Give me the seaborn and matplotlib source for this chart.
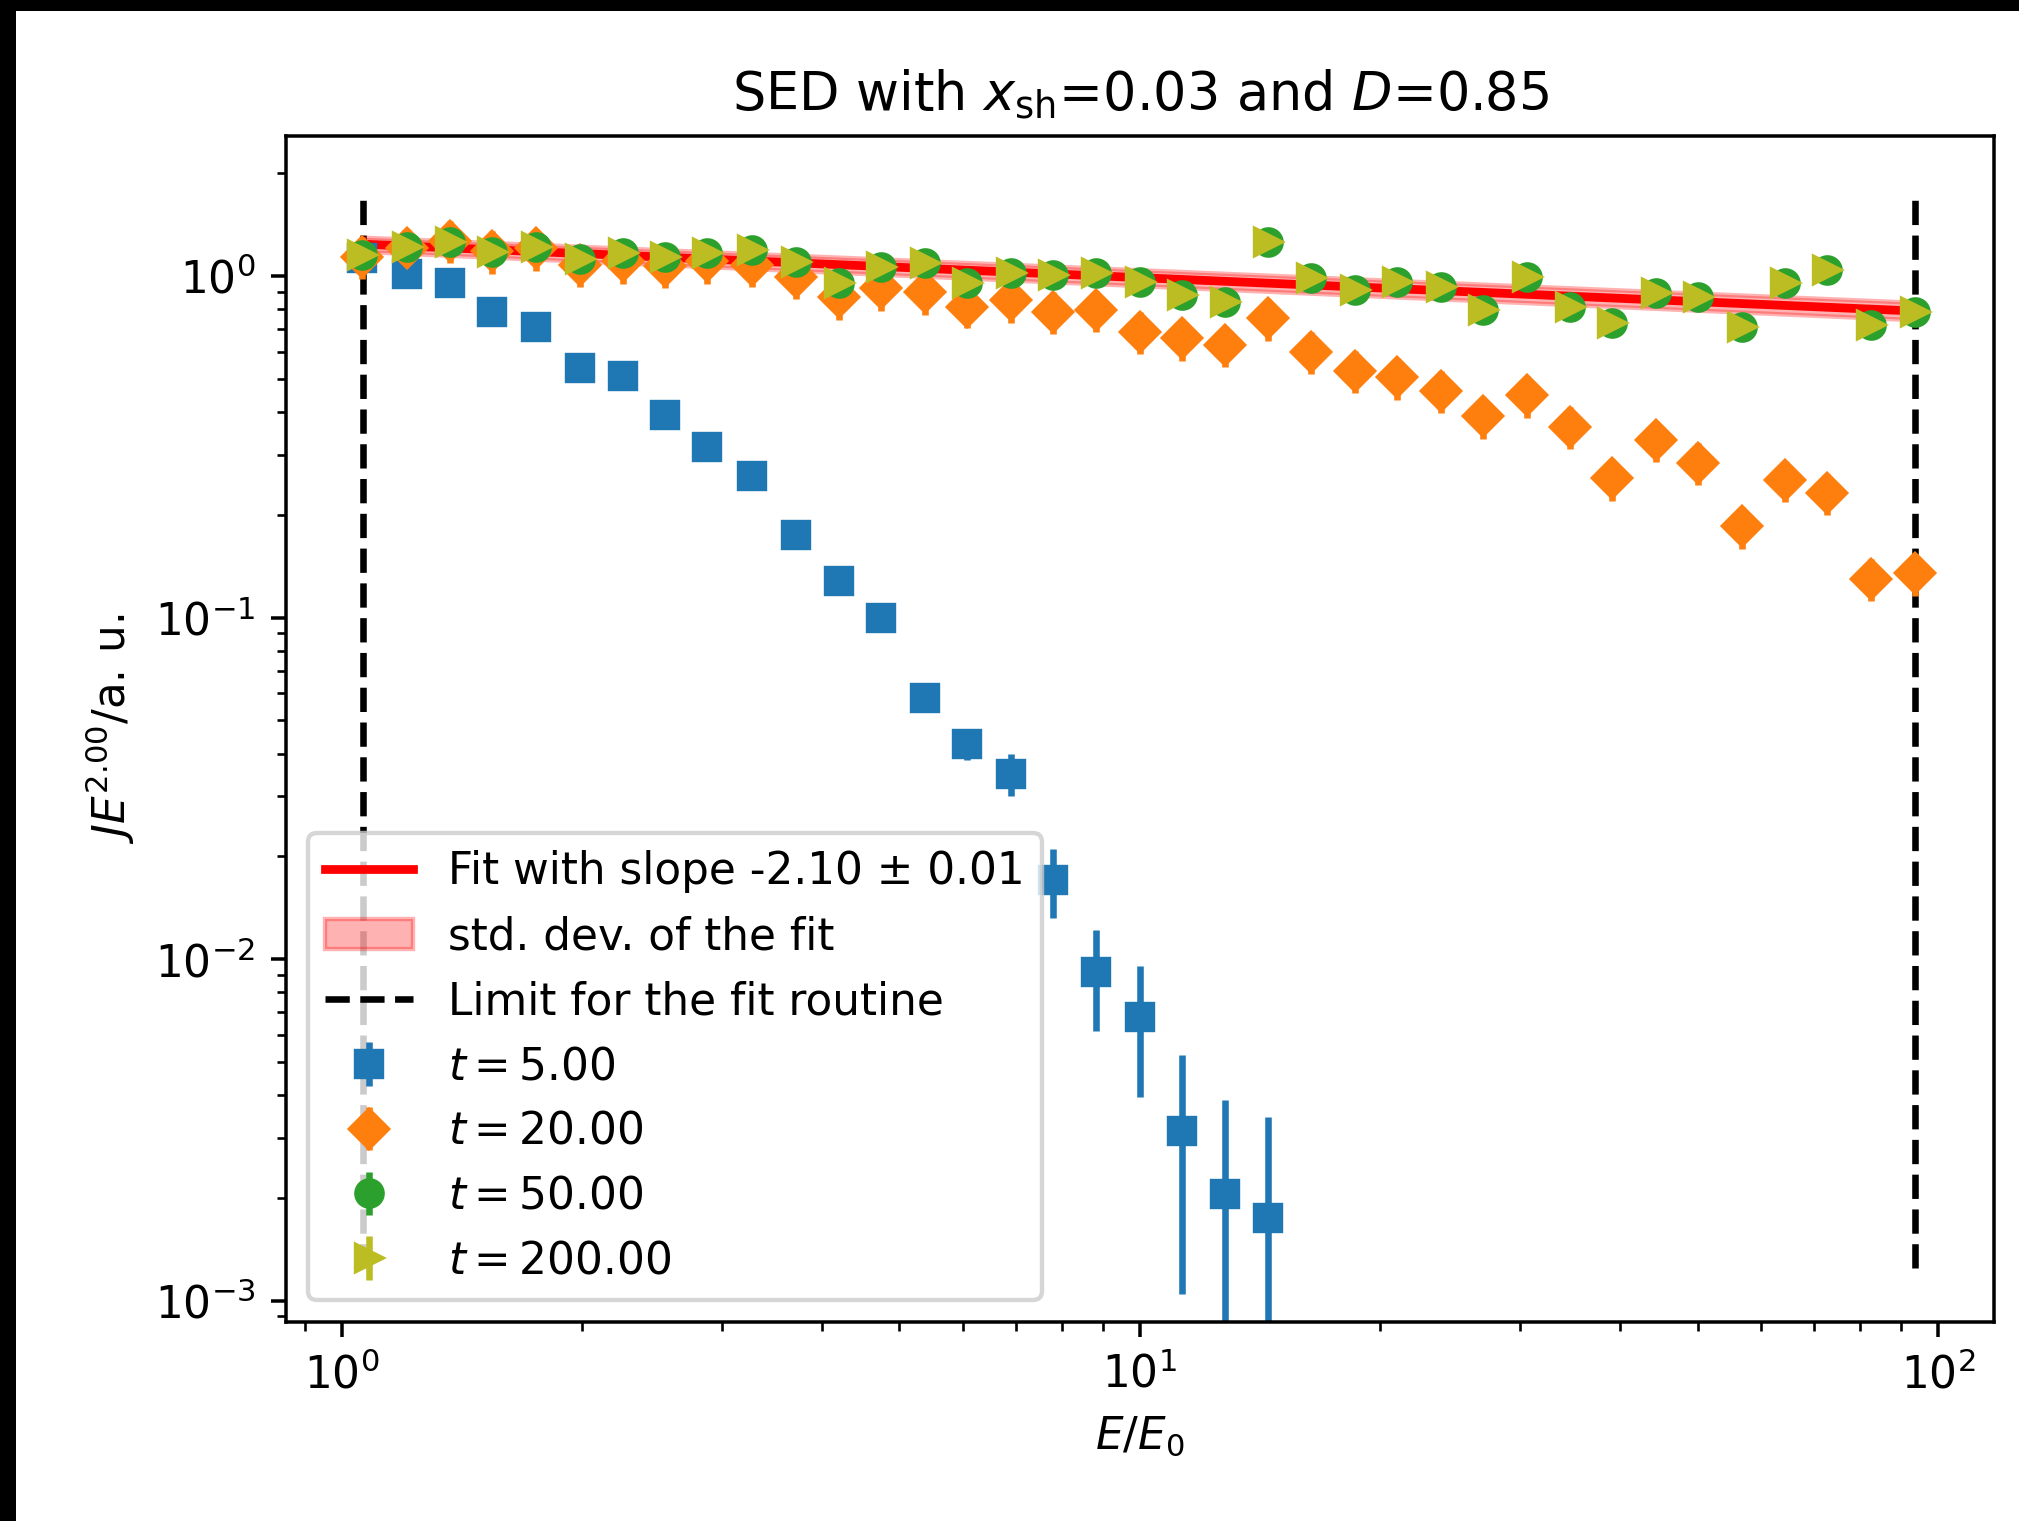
import matplotlib
matplotlib.use("Agg")
import matplotlib.pyplot as plt
import seaborn as sns
from matplotlib.patches import Rectangle

# ---------------- data ----------------
energy = [1.061, 1.208, 1.366, 1.544, 1.752, 1.988, 2.255, 2.540, 2.872, 3.269,
          3.709, 4.195, 4.741, 5.379, 6.079, 6.898, 7.797, 8.815, 10.0, 11.30,
          12.78, 14.50, 16.39, 18.59, 21.02, 23.85, 26.96, 30.58, 34.57, 39.07,
          44.36, 50.12, 56.87, 64.29, 72.67, 82.45, 93.54]

t5_values = [1.13, 1.016, 0.953, 0.786, 0.711, 0.537, 0.510, 0.393, 0.316, 0.259,
             0.174, 0.128, 0.0997, 0.0582, 0.0426, 0.0349, 0.0171, 0.00917,
             0.00676, 0.00315, 0.00206, 0.00175]
t5_errors = [0.02, 0.02, 0.02, 0.018, 0.017, 0.015, 0.015, 0.013, 0.012, 0.011,
             0.009, 0.008, 0.007, 0.005, 0.0043, 0.0049, 0.0039, 0.0030,
             0.0028, 0.0021, 0.0018, 0.0017]

t20_values = [1.14, 1.205, 1.27, 1.185, 1.205, 1.08, 1.11, 1.07, 1.11, 1.08,
              0.995, 0.866, 0.92, 0.90, 0.813, 0.851, 0.786, 0.795, 0.687, 0.657,
              0.628, 0.752, 0.60, 0.528, 0.505, 0.462, 0.388, 0.448, 0.362, 0.256,
              0.331, 0.284, 0.185, 0.253, 0.232, 0.130, 0.135]
t20_errors = [0.16, 0.17, 0.18, 0.17, 0.17, 0.15, 0.16, 0.15, 0.16, 0.15,
              0.14, 0.12, 0.13, 0.13, 0.11, 0.12, 0.11, 0.11, 0.096, 0.092,
              0.088, 0.105, 0.084, 0.074, 0.071, 0.065, 0.054, 0.063, 0.051, 0.036,
              0.046, 0.040, 0.026, 0.035, 0.032, 0.018, 0.019]

t50_values = [1.152, 1.218, 1.260, 1.178, 1.218, 1.119, 1.165, 1.139, 1.165, 1.191,
              1.102, 0.952, 1.065, 1.089, 0.952, 1.018, 1.007, 1.018, 0.963, 0.880,
              0.841, 1.260, 0.984, 0.910, 0.963, 0.930, 0.795, 0.995, 0.813, 0.727,
              0.890, 0.870, 0.711, 0.952, 1.041, 0.719, 0.786]
t50_errors = [0.046, 0.049, 0.050, 0.047, 0.049, 0.045, 0.047, 0.046, 0.047, 0.048,
              0.044, 0.038, 0.043, 0.044, 0.038, 0.041, 0.040, 0.041, 0.039, 0.035,
              0.034, 0.050, 0.039, 0.036, 0.039, 0.037, 0.032, 0.040, 0.033, 0.029,
              0.036, 0.035, 0.028, 0.038, 0.042, 0.029, 0.031]

t200_values = [1.152, 1.218, 1.260, 1.178, 1.218, 1.119, 1.165, 1.139, 1.165, 1.191,
               1.102, 0.952, 1.065, 1.089, 0.952, 1.018, 1.007, 1.018, 0.963, 0.880,
               0.841, 1.260, 0.984, 0.910, 0.963, 0.930, 0.795, 0.995, 0.813, 0.727,
               0.890, 0.870, 0.711, 0.952, 1.041, 0.719, 0.786]
t200_errors = [0.046, 0.049, 0.050, 0.047, 0.049, 0.045, 0.047, 0.046, 0.047, 0.048,
               0.044, 0.038, 0.043, 0.044, 0.038, 0.041, 0.040, 0.041, 0.039, 0.035,
               0.034, 0.050, 0.039, 0.036, 0.039, 0.037, 0.032, 0.040, 0.033, 0.029,
               0.036, 0.035, 0.028, 0.038, 0.042, 0.029, 0.031]

fit_x = [1.061, 93.54]
fit_y = [1.24, 0.79]
fit_low = [1.18, 0.745]
fit_high = [1.30, 0.838]

limit_x = [1.063, 93.54]
limit_ymin = 1.25e-3
limit_ymax = 1.70

series_labels = ["$t = 5.00$", "$t = 20.00$", "$t = 50.00$", "$t = 200.00$"]
fit_label = "Fit with slope -2.10 ± 0.01"
band_label = "std. dev. of the fit"
limit_label = "Limit for the fit routine"
title = r"SED with $x_{\rm sh}$=0.03 and $D$=0.85"
xlabel = r"$E/E_0$"
ylabel = r"$JE^{2.00}/\mathrm{a.\,u.}$"

# ---------------- style ----------------
sns.set_theme(style="ticks", context="notebook")
plt.rcParams.update({
    "font.family": ["DejaVu Sans"],
    "font.size": 10,
    "axes.titlesize": 12,
    "axes.labelsize": 10,
    "xtick.labelsize": 10,
    "ytick.labelsize": 10,
    "legend.fontsize": 10,
    "axes.edgecolor": "black",
    "axes.labelcolor": "black",
    "text.color": "black",
    "xtick.color": "black",
    "ytick.color": "black",
    "axes.linewidth": 0.8,
    "xtick.major.size": 3.5, "ytick.major.size": 3.5,
    "xtick.minor.size": 2.0, "ytick.minor.size": 2.0,
    "xtick.major.width": 0.8, "ytick.major.width": 0.8,
    "xtick.minor.width": 0.6, "ytick.minor.width": 0.6,
    "lines.linewidth": 1.5,
    "lines.markersize": 6,
    "lines.solid_capstyle": "projecting",
    "patch.linewidth": 1.0,
})

DPI = 315
fig = plt.figure(figsize=(2019 / DPI, 1521 / DPI), dpi=DPI)
ax = fig.add_axes([0.14165, 0.13083, 0.84596, 0.77975])
ax.set_xscale("log")
ax.set_yscale("log")

# fit line and its band
sns.lineplot(x=fit_x, y=fit_y, ax=ax, color="red", linewidth=2.0, label=fit_label,
             legend=False, zorder=1.5)
band = ax.fill_between(fit_x, fit_low, fit_high, color="red", alpha=0.3,
                       label=band_label, zorder=1.4)
limits = ax.vlines(limit_x, limit_ymin, limit_ymax, colors="black",
                   linestyles="--", linewidth=1.5, label=limit_label, zorder=1.3)

palette = sns.color_palette("tab10")
eb5 = ax.errorbar(energy[:len(t5_values)], t5_values, yerr=t5_errors, fmt="s",
                  color=palette[0], label=series_labels[0])
eb20 = ax.errorbar(energy, t20_values, yerr=t20_errors, fmt="D",
                   color=palette[1], label=series_labels[1])
eb50 = ax.errorbar(energy, t50_values, yerr=t50_errors, fmt="o",
                   color=palette[2], label=series_labels[2])
eb200 = ax.errorbar(energy, t200_values, yerr=t200_errors, fmt=">",
                    color=palette[8], label=series_labels[3])

ax.set_xlim(0.852, 117.6)
ax.set_ylim(8.67e-4, 2.57)
ax.set_title(title)
ax.set_xlabel(xlabel)
ax.set_ylabel(ylabel)

fit_line = ax.lines[0]
ax.legend(handles=[fit_line, band, limits, eb5, eb20, eb50, eb200],
          labels=[fit_label, band_label, limit_label] + series_labels,
          loc="lower left", frameon=True)

# black screenshot border (top and left)
fig.add_artist(Rectangle((0, 1 - 11 / 1521), 1, 11 / 1521, transform=fig.transFigure,
                         facecolor="black", edgecolor="none", zorder=10))
fig.add_artist(Rectangle((0, 0), 16 / 2019, 1, transform=fig.transFigure,
                         facecolor="black", edgecolor="none", zorder=10))

fig.savefig("out.png", dpi=DPI)
